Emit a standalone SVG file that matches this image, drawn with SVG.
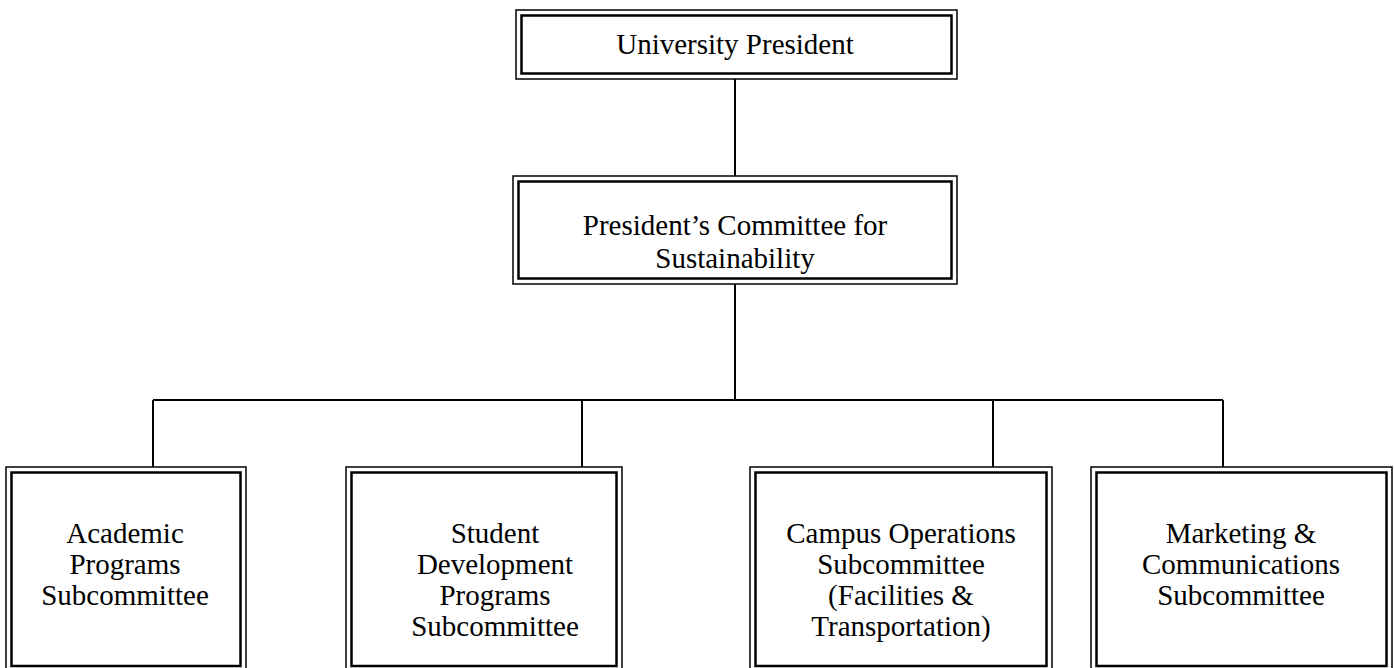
<svg xmlns="http://www.w3.org/2000/svg" width="1394" height="668" viewBox="0 0 1394 668">
<style>
.o{fill:none;stroke:#000;stroke-width:1.5}
.i{fill:none;stroke:#000;stroke-width:2.5}
.t{font-family:"Liberation Serif","Times New Roman",serif;font-size:29px;fill:#000;text-anchor:middle}
.c{fill:none;stroke:#000;stroke-width:2}
</style>
<rect width="1394" height="668" fill="#fff"/>
<g id="connectors">
<path class="c" d="M735 79V176M735 284V400M153 400H1223M153 400V467M582 400V467M993 400V467M1223 400V467"/>
</g>
<g id="president">
<rect class="o" x="516" y="10" width="441" height="69"/>
<rect class="i" x="521.5" y="15.5" width="430" height="58"/>
<text class="t" x="735" y="54">University President</text>
</g>
<g id="committee">
<rect class="o" x="513" y="176" width="444" height="108"/>
<rect class="i" x="518.5" y="181.5" width="433" height="97"/>
<text class="t" x="735" y="235">President’s Committee for</text>
<text class="t" x="735" y="268">Sustainability</text>
</g>
<g id="academic">
<rect class="o" x="6" y="467" width="240" height="210"/>
<rect class="i" x="11.5" y="472.5" width="229" height="193.5"/>
<text class="t" x="125" y="543">Academic</text>
<text class="t" x="125" y="574">Programs</text>
<text class="t" x="125" y="605">Subcommittee</text>
</g>
<g id="student">
<rect class="o" x="346" y="467" width="276" height="210"/>
<rect class="i" x="351.5" y="472.5" width="265" height="193.5"/>
<text class="t" x="495" y="543">Student</text>
<text class="t" x="495" y="574">Development</text>
<text class="t" x="495" y="605">Programs</text>
<text class="t" x="495" y="636">Subcommittee</text>
</g>
<g id="campus">
<rect class="o" x="750" y="467" width="302" height="210"/>
<rect class="i" x="755.5" y="472.5" width="291" height="193.5"/>
<text class="t" x="901" y="543">Campus Operations</text>
<text class="t" x="901" y="574">Subcommittee</text>
<text class="t" x="901" y="605">(Facilities &amp;</text>
<text class="t" x="901" y="636">Transportation)</text>
</g>
<g id="marketing">
<rect class="o" x="1091" y="467" width="301" height="210"/>
<rect class="i" x="1096.5" y="472.5" width="290" height="193.5"/>
<text class="t" x="1241" y="543">Marketing &amp;</text>
<text class="t" x="1241" y="574">Communications</text>
<text class="t" x="1241" y="605">Subcommittee</text>
</g>
</svg>
